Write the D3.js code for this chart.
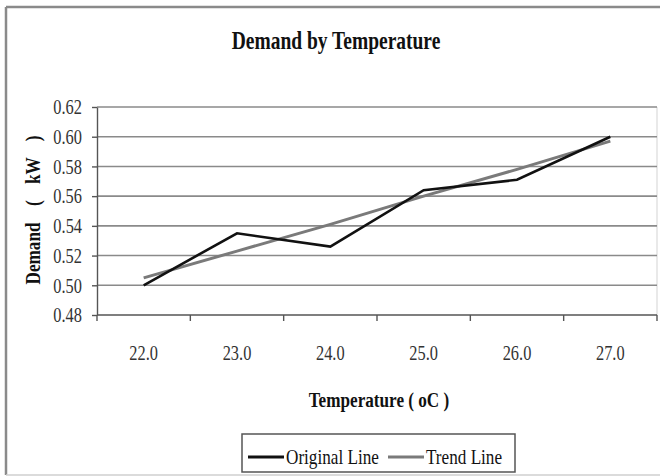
<!DOCTYPE html>
<html lang="en">
<head>
<meta charset="UTF-8">
<title>Demand by Temperature</title>
<script src="https://d3js.org/d3.v7.min.js"></script>
<style>
    body { margin: 0; padding: 0; background: #fff; overflow: hidden; }
    svg text { font-family: "Liberation Serif", "Times New Roman", serif; fill: #111; }
    .sx { transform-box: fill-box; transform-origin: center; transform: scaleX(0.78); }
    .grid line { stroke: #8a8a8a; stroke-width: 1.6px; }
    .axis path, .axis line { stroke: #555; stroke-width: 1.4px; }
</style>
</head>
<body>
<script>
    // chart data
    const temps = ["22.0", "23.0", "24.0", "25.0", "26.0", "27.0"];
    const original = [0.500, 0.535, 0.526, 0.564, 0.571, 0.600];
    const trend = [0.505, 0.523, 0.541, 0.560, 0.578, 0.597];
    const yTicks = [0.48, 0.50, 0.52, 0.54, 0.56, 0.58, 0.60, 0.62];

    const width = 660, height = 476;
    const plot = { left: 97, right: 657, top: 107, bottom: 315 };

    const svg = d3.select("body").append("svg")
        .attr("width", width)
        .attr("height", height);

    // outer chart border
    svg.append("line").attr("x1", 6).attr("y1", 7).attr("x2", width).attr("y2", 7)
        .attr("stroke", "#8a8a8a").attr("stroke-width", 2.5);
    svg.append("line").attr("x1", 6).attr("y1", 7).attr("x2", 6).attr("y2", 475)
        .attr("stroke", "#8a8a8a").attr("stroke-width", 2.5);
    svg.append("line").attr("x1", 6).attr("y1", 475).attr("x2", width).attr("y2", 475)
        .attr("stroke", "#cfcfcf").attr("stroke-width", 1.5);

    const x = d3.scaleBand().domain(temps).range([plot.left, plot.right]).padding(0);
    const y = d3.scaleLinear().domain([0.48, 0.62]).range([plot.bottom, plot.top]);

    // faint right edge of plot area
    svg.append("line").attr("x1", plot.right).attr("x2", plot.right)
        .attr("y1", plot.top).attr("y2", plot.bottom)
        .attr("stroke", "#e2e2e2").attr("stroke-width", 1.5);

    // horizontal gridlines
    svg.append("g").attr("class", "grid")
        .selectAll("line")
        .data(yTicks.slice(1))
        .enter().append("line")
        .attr("x1", plot.left).attr("x2", plot.right)
        .attr("y1", d => y(d)).attr("y2", d => y(d));

    // y axis
    const yAxis = svg.append("g").attr("class", "axis")
        .attr("transform", `translate(${plot.left},0)`)
        .call(d3.axisLeft(y).tickValues(yTicks).tickFormat(d3.format(".2f")).tickSize(5).tickSizeOuter(0).tickPadding(6));
    yAxis.selectAll("text").attr("class", "sx").style("font-size", "21px").style("fill", "#333");

    // x axis: ticks between categories
    const xAxisG = svg.append("g").attr("class", "axis")
        .attr("transform", `translate(0,${plot.bottom})`);
    xAxisG.append("line").attr("x1", plot.left).attr("x2", plot.right);
    xAxisG.selectAll(".tk")
        .data(temps.map(d => x(d)).concat([plot.right]))
        .enter().append("line")
        .attr("class", "tk")
        .attr("x1", d => d).attr("x2", d => d)
        .attr("y1", 0).attr("y2", 6);
    xAxisG.selectAll("text")
        .data(temps)
        .enter().append("text")
        .attr("class", "sx")
        .attr("x", d => x(d) + x.bandwidth() / 2)
        .attr("y", 45)
        .attr("text-anchor", "middle")
        .style("font-size", "21px")
        .style("fill", "#333")
        .text(d => d);

    const cx = (d, i) => x(temps[i]) + x.bandwidth() / 2;

    // trend line
    svg.append("path")
        .datum(trend)
        .attr("fill", "none")
        .attr("stroke", "#7a7a7a")
        .attr("stroke-width", 3)
        .attr("d", d3.line().x(cx).y(d => y(d)));

    // original line
    svg.append("path")
        .datum(original)
        .attr("fill", "none")
        .attr("stroke", "#111")
        .attr("stroke-width", 2.6)
        .attr("d", d3.line().x(cx).y(d => y(d)));

    // title
    svg.append("text")
        .attr("class", "sx")
        .attr("x", 336).attr("y", 49)
        .attr("text-anchor", "middle")
        .style("font-size", "25px").style("font-weight", "bold")
        .text("Demand by Temperature");

    // axis titles
    svg.append("text")
        .attr("class", "sx")
        .attr("x", 379).attr("y", 407)
        .attr("text-anchor", "middle")
        .style("font-size", "22px").style("font-weight", "bold")
        .text("Temperature ( oC )");

    svg.append("g")
        .attr("transform", "translate(40,210) rotate(-90)")
        .append("text")
        .attr("class", "sx")
        .attr("text-anchor", "middle")
        .style("font-size", "22px").style("font-weight", "bold")
        .style("white-space", "pre").style("word-spacing", "5px")
        .text("Demand  (  kW  )");

    // legend
    const legend = svg.append("g");
    legend.append("rect")
        .attr("x", 242).attr("y", 434).attr("width", 273).attr("height", 38)
        .attr("fill", "#fff").attr("stroke", "#555").attr("stroke-width", 1.5);
    const items = [
        { name: "Original Line", color: "#111", x0: 248 },
        { name: "Trend Line", color: "#7a7a7a", x0: 388 }
    ];
    items.forEach(it => {
        legend.append("line")
            .attr("x1", it.x0).attr("x2", it.x0 + 36)
            .attr("y1", 457).attr("y2", 457)
            .attr("stroke", it.color).attr("stroke-width", 3);
        legend.append("text")
            .attr("class", "sx")
            .attr("x", it.x0 + 38).attr("y", 464)
            .style("font-size", "22px")
            .style("transform-origin", "left center")
            .text(it.name);
    });
</script>
</body>
</html>
